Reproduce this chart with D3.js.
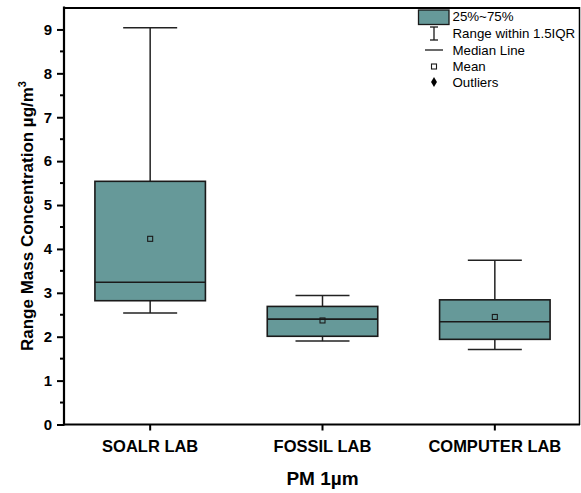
<!DOCTYPE html>
<html><head><meta charset="utf-8">
<script src="https://cdn.jsdelivr.net/npm/d3@7"></script>
<style>body{margin:0;background:#fff}svg{display:block;font-family:"Liberation Sans",Arial,sans-serif}</style>
</head><body>
<script>
const categories = ["SOALR LAB", "FOSSIL LAB", "COMPUTER LAB"];
const whiskerLow = [2.54, 1.90, 1.71];
const q1 = [2.82, 2.01, 1.94];
const median = [3.24, 2.40, 2.34];
const q3 = [5.54, 2.69, 2.84];
const whiskerHigh = [9.04, 2.94, 3.74];
const means = [4.23, 2.37, 2.45];
const yTicks = [0,1,2,3,4,5,6,7,8,9];
const legendLabels = ["25%~75%", "Range within 1.5IQR", "Median Line", "Mean", "Outliers"];

const W = 581, H = 493;
const fill = "#669999", dark = "#1a1a1a";
const svg = d3.select("body").append("svg").attr("width", W).attr("height", H);

const x = d3.scaleBand().domain(categories).range([64, 581]);
const y = d3.scaleLinear().domain([0, 9.5]).range([424.5, 7.5]);
const boxW = 110.5, capW = 54;

const data = categories.map((c, i) => ({c, lo: whiskerLow[i], q1: q1[i], med: median[i], q3: q3[i], hi: whiskerHigh[i], mean: means[i]}));
const cx = d => x(d.c) + x.bandwidth() / 2;

const g = svg.append("g");
data.forEach(d => {
  const xc = cx(d);
  // whiskers
  g.append("line").attr("x1", xc).attr("x2", xc).attr("y1", y(d.q3)).attr("y2", y(d.hi)).attr("stroke", "#222").attr("stroke-width", 1.5);
  g.append("line").attr("x1", xc).attr("x2", xc).attr("y1", y(d.q1)).attr("y2", y(d.lo)).attr("stroke", "#222").attr("stroke-width", 1.5);
  g.append("line").attr("x1", xc - capW/2).attr("x2", xc + capW/2).attr("y1", y(d.hi)).attr("y2", y(d.hi)).attr("stroke", "#222").attr("stroke-width", 1.5);
  g.append("line").attr("x1", xc - capW/2).attr("x2", xc + capW/2).attr("y1", y(d.lo)).attr("y2", y(d.lo)).attr("stroke", "#222").attr("stroke-width", 1.5);
  // box
  g.append("rect").attr("x", xc - boxW/2).attr("y", y(d.q3)).attr("width", boxW).attr("height", y(d.q1) - y(d.q3))
    .attr("fill", fill).attr("stroke", dark).attr("stroke-width", 1.6);
  g.append("line").attr("x1", xc - boxW/2).attr("x2", xc + boxW/2).attr("y1", y(d.med)).attr("y2", y(d.med)).attr("stroke", dark).attr("stroke-width", 1.6);
  g.append("rect").attr("x", xc - 2.5).attr("y", y(d.mean) - 2.5).attr("width", 5).attr("height", 5)
    .attr("fill", "none").attr("stroke", dark).attr("stroke-width", 1.1);
});

// frame top & right
svg.append("line").attr("x1", 63).attr("x2", 580).attr("y1", 8).attr("y2", 8).attr("stroke", "#000").attr("stroke-width", 2);
svg.append("line").attr("x1", 579.5).attr("x2", 579.5).attr("y1", 7).attr("y2", 425).attr("stroke", "#000").attr("stroke-width", 1.5);

// y axis
const yAxis = d3.axisLeft(y).tickValues(yTicks).tickSize(7).tickPadding(5).tickFormat(d3.format("d"));
const ya = svg.append("g").attr("transform", "translate(64,0)").call(yAxis);
ya.select(".domain").attr("stroke-width", 2.2).attr("d", `M0,${y(9.5)-1}V${y(0)+1}`);
ya.selectAll(".tick line").attr("stroke-width", 2);
ya.selectAll("text").attr("font-size", 15).attr("font-weight", "bold").attr("fill", "#000");
const minor = d3.range(0.5, 9.5, 1);
ya.selectAll(".minor").data(minor).enter().append("line").attr("class", "minor")
  .attr("x1", 0).attr("x2", -4).attr("y1", d => y(d)).attr("y2", d => y(d)).attr("stroke", "#000").attr("stroke-width", 2);

// x axis
const xAxis = d3.axisBottom(x).tickSize(6).tickPadding(10);
const xa = svg.append("g").attr("transform", `translate(0,${y(0)})`).call(xAxis);
xa.select(".domain").attr("stroke-width", 2.2).attr("d", "M63,0H580");
xa.selectAll(".tick line").attr("stroke-width", 2);
xa.selectAll("text").attr("font-size", 16.5).attr("font-weight", "bold").attr("fill", "#000");

// axis titles
svg.append("text").attr("x", 322.5).attr("y", 485).attr("text-anchor", "middle").attr("font-size", 19).attr("font-weight", "bold").text("PM 1µm");
const yt = svg.append("text").attr("transform", "translate(33,216) rotate(-90)").attr("text-anchor", "middle").attr("font-size", 17).attr("font-weight", "bold");
yt.append("tspan").text("Range Mass Concentration µg/m");
yt.append("tspan").attr("font-size", 11).attr("dy", -7).text("3");

// legend
const lg = svg.append("g");
const ly = [16, 33, 50, 66.5, 82];
const lx = 434;
lg.append("rect").attr("x", 418.5).attr("y", 10).attr("width", 30.5).attr("height", 14.5).attr("fill", fill).attr("stroke", dark).attr("stroke-width", 1.3);
lg.append("line").attr("x1", lx).attr("x2", lx).attr("y1", 27).attr("y2", 40).attr("stroke", dark).attr("stroke-width", 1.3);
lg.append("line").attr("x1", lx-4).attr("x2", lx+4).attr("y1", 27).attr("y2", 27).attr("stroke", dark).attr("stroke-width", 1.3);
lg.append("line").attr("x1", lx-4).attr("x2", lx+4).attr("y1", 40).attr("y2", 40).attr("stroke", dark).attr("stroke-width", 1.3);
lg.append("line").attr("x1", 425).attr("x2", 443).attr("y1", ly[2]).attr("y2", ly[2]).attr("stroke", dark).attr("stroke-width", 1.3);
lg.append("rect").attr("x", lx-2.5).attr("y", ly[3]-2.5).attr("width", 5).attr("height", 5).attr("fill", "none").attr("stroke", dark).attr("stroke-width", 1.1);
lg.append("path").attr("d", d3.symbol(d3.symbolDiamond, 30)()).attr("transform", `translate(${lx},${ly[4]})`).attr("fill", "#000");
lg.selectAll("text.l").data(legendLabels).enter().append("text").attr("class", "l")
  .attr("x", 452.5).attr("y", (d, i) => ly[i]).attr("dy", "0.35em").attr("font-size", 13.3).text(d => d);
</script>
</body></html>
